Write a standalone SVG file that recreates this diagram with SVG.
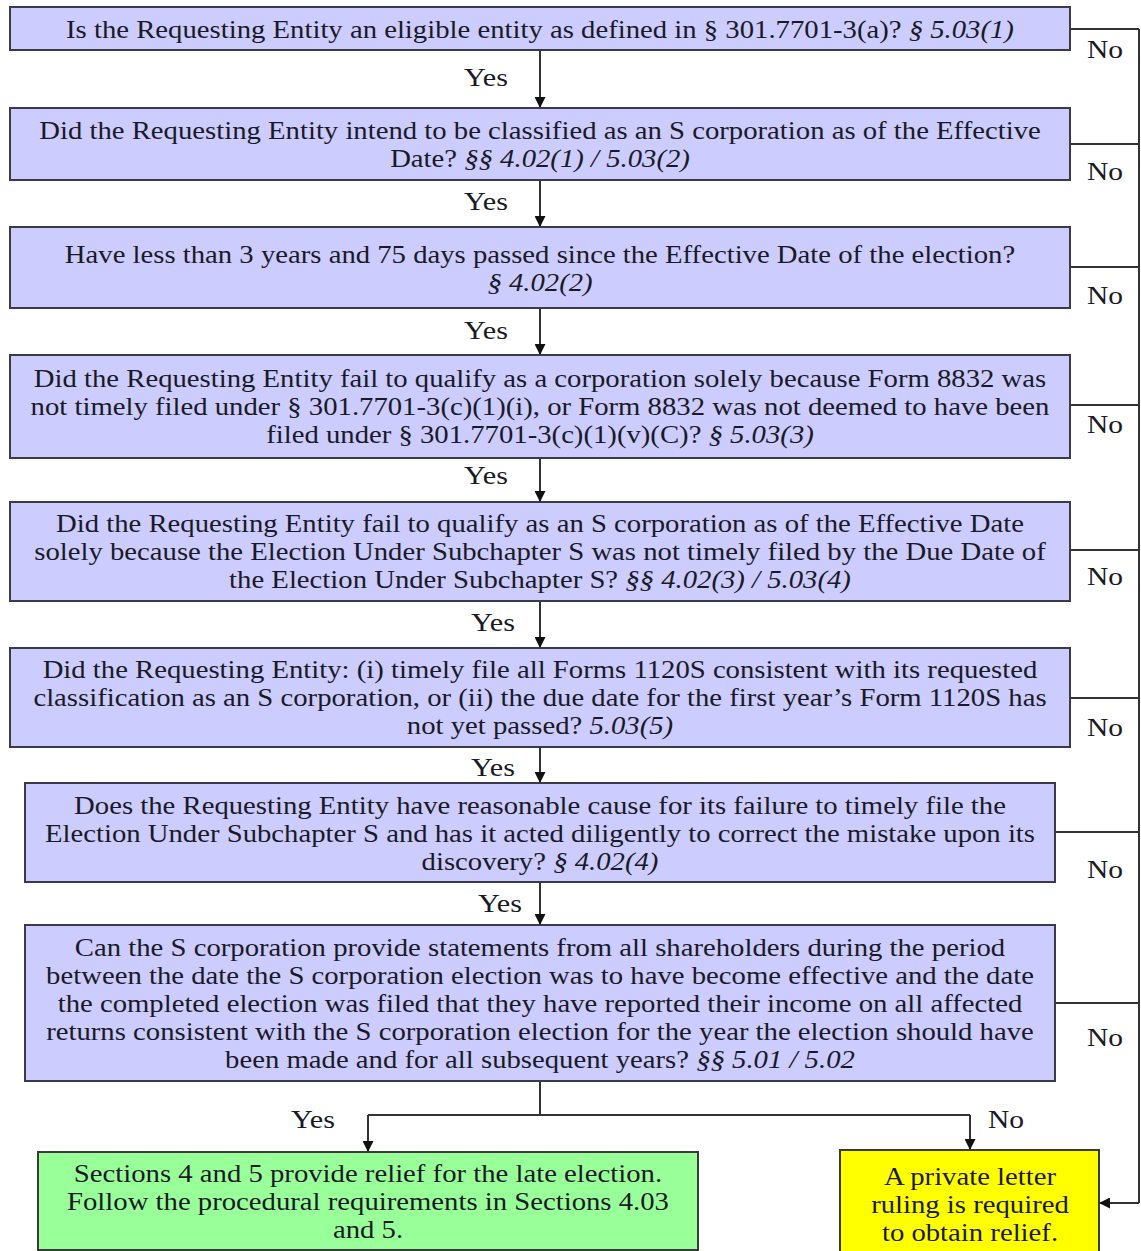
<svg xmlns="http://www.w3.org/2000/svg" width="1141" height="1251" viewBox="0 0 1141 1251">
<style>
text{font-family:"Liberation Serif","Times New Roman",serif;font-size:26px;fill:#1a1a26;text-anchor:middle}
.i{font-style:italic}
.q{fill:#ccccff;stroke:#3a3a4a;stroke-width:2}
.g{fill:#99ff99;stroke:#3a3a3a;stroke-width:2}
.y{fill:#ffff00;stroke:#3a3a3a;stroke-width:2}
.c{fill:none;stroke:#333;stroke-width:2}
</style>
<defs>
<marker id="ah" viewBox="0 0 10 10" refX="10" refY="5" markerWidth="11" markerHeight="11" markerUnits="userSpaceOnUse" orient="auto">
<path d="M0,0 L10,5 L0,10 z" fill="#111"/>
</marker>
</defs>
<rect width="1141" height="1251" fill="#ffffff"/>
<g id="connectors">
<path class="c" d="M540,50 V108" marker-end="url(#ah)"/>
<path class="c" d="M540,180 V227" marker-end="url(#ah)"/>
<path class="c" d="M540,308 V355" marker-end="url(#ah)"/>
<path class="c" d="M540,458 V502" marker-end="url(#ah)"/>
<path class="c" d="M540,601 V648" marker-end="url(#ah)"/>
<path class="c" d="M540,747 V783" marker-end="url(#ah)"/>
<path class="c" d="M540,882 V925" marker-end="url(#ah)"/>
<path class="c" d="M540,1081 V1115 M368,1115 H970"/>
<path class="c" d="M368,1115 V1152" marker-end="url(#ah)"/>
<path class="c" d="M970,1115 V1150" marker-end="url(#ah)"/>
<path class="c" d="M1070,29 H1139 M1070,144 H1139 M1070,267 H1139 M1070,405 H1139 M1070,550 H1139 M1070,698 H1139 M1055,832 H1139 M1055,1003 H1139 M1139,29 V1203"/>
<path class="c" d="M1139,1203 H1099" marker-end="url(#ah)"/>
<text x="486" y="86" textLength="44" lengthAdjust="spacingAndGlyphs">Yes</text>
<text x="486" y="210" textLength="44" lengthAdjust="spacingAndGlyphs">Yes</text>
<text x="486" y="339" textLength="44" lengthAdjust="spacingAndGlyphs">Yes</text>
<text x="486" y="484" textLength="44" lengthAdjust="spacingAndGlyphs">Yes</text>
<text x="493" y="631" textLength="44" lengthAdjust="spacingAndGlyphs">Yes</text>
<text x="493" y="776" textLength="44" lengthAdjust="spacingAndGlyphs">Yes</text>
<text x="500" y="912" textLength="44" lengthAdjust="spacingAndGlyphs">Yes</text>
<text x="313" y="1128" textLength="44" lengthAdjust="spacingAndGlyphs">Yes</text>
<text x="1006" y="1128" textLength="36" lengthAdjust="spacingAndGlyphs">No</text>
<text x="1105" y="58" textLength="36" lengthAdjust="spacingAndGlyphs">No</text>
<text x="1105" y="180" textLength="36" lengthAdjust="spacingAndGlyphs">No</text>
<text x="1105" y="304" textLength="36" lengthAdjust="spacingAndGlyphs">No</text>
<text x="1105" y="433" textLength="36" lengthAdjust="spacingAndGlyphs">No</text>
<text x="1105" y="585" textLength="36" lengthAdjust="spacingAndGlyphs">No</text>
<text x="1105" y="736" textLength="36" lengthAdjust="spacingAndGlyphs">No</text>
<text x="1105" y="878" textLength="36" lengthAdjust="spacingAndGlyphs">No</text>
<text x="1105" y="1046" textLength="36" lengthAdjust="spacingAndGlyphs">No</text>
</g>
<g id="q1">
<rect class="q" x="10" y="7" width="1060" height="43"/>
<g transform="matrix(1.105,0,0,1,-56.7,0)">
<text x="540" y="38">Is the Requesting Entity an eligible entity as defined in § 301.7701-3(a)? <tspan class="i">§ 5.03(1)</tspan></text>
</g>
</g>
<g id="q2">
<rect class="q" x="10" y="108" width="1060" height="72"/>
<g transform="matrix(1.105,0,0,1,-56.7,0)">
<text x="540" y="139">Did the Requesting Entity intend to be classified as an S corporation as of the Effective</text>
<text x="540" y="167">Date? <tspan class="i">§§ 4.02(1) / 5.03(2)</tspan></text>
</g>
</g>
<g id="q3">
<rect class="q" x="10" y="227" width="1060" height="81"/>
<g transform="matrix(1.105,0,0,1,-56.7,0)">
<text x="540" y="263">Have less than 3 years and 75 days passed since the Effective Date of the election?</text>
<text x="540" y="291" class="i">§ 4.02(2)</text>
</g>
</g>
<g id="q4">
<rect class="q" x="10" y="355" width="1060" height="103"/>
<g transform="matrix(1.105,0,0,1,-56.7,0)">
<text x="540" y="387">Did the Requesting Entity fail to qualify as a corporation solely because Form 8832 was</text>
<text x="540" y="415">not timely filed under § 301.7701-3(c)(1)(i), or Form 8832 was not deemed to have been</text>
<text x="540" y="443">filed under § 301.7701-3(c)(1)(v)(C)? <tspan class="i">§ 5.03(3)</tspan></text>
</g>
</g>
<g id="q5">
<rect class="q" x="10" y="502" width="1060" height="99"/>
<g transform="matrix(1.105,0,0,1,-56.7,0)">
<text x="540" y="532">Did the Requesting Entity fail to qualify as an S corporation as of the Effective Date</text>
<text x="540" y="560">solely because the Election Under Subchapter S was not timely filed by the Due Date of</text>
<text x="540" y="588">the Election Under Subchapter S? <tspan class="i">§§ 4.02(3) / 5.03(4)</tspan></text>
</g>
</g>
<g id="q6">
<rect class="q" x="10" y="648" width="1060" height="99"/>
<g transform="matrix(1.105,0,0,1,-56.7,0)">
<text x="540" y="678">Did the Requesting Entity: (i) timely file all Forms 1120S consistent with its requested</text>
<text x="540" y="706">classification as an S corporation, or (ii) the due date for the first year’s Form 1120S has</text>
<text x="540" y="734">not yet passed? <tspan class="i">5.03(5)</tspan></text>
</g>
</g>
<g id="q7">
<rect class="q" x="25" y="783" width="1030" height="99"/>
<g transform="matrix(1.105,0,0,1,-56.7,0)">
<text x="540" y="814">Does the Requesting Entity have reasonable cause for its failure to timely file the</text>
<text x="540" y="842">Election Under Subchapter S and has it acted diligently to correct the mistake upon its</text>
<text x="540" y="870">discovery? <tspan class="i">§ 4.02(4)</tspan></text>
</g>
</g>
<g id="q8">
<rect class="q" x="25" y="925" width="1030" height="156"/>
<g transform="matrix(1.105,0,0,1,-56.7,0)">
<text x="540" y="956">Can the S corporation provide statements from all shareholders during the period</text>
<text x="540" y="984">between the date the S corporation election was to have become effective and the date</text>
<text x="540" y="1012">the completed election was filed that they have reported their income on all affected</text>
<text x="540" y="1040">returns consistent with the S corporation election for the year the election should have</text>
<text x="540" y="1068">been made and for all subsequent years? <tspan class="i">§§ 5.01 / 5.02</tspan></text>
</g>
</g>
<g id="relief">
<rect class="g" x="38" y="1152" width="660" height="98"/>
<g transform="matrix(1.105,0,0,1,-38.64,0)">
<text x="368" y="1182">Sections 4 and 5 provide relief for the late election.</text>
<text x="368" y="1210">Follow the procedural requirements in Sections 4.03</text>
<text x="368" y="1238">and 5.</text>
</g>
</g>
<g id="plr">
<rect class="y" x="840" y="1150" width="259" height="104"/>
<g transform="matrix(1.105,0,0,1,-101.85,0)">
<text x="970" y="1185">A private letter</text>
<text x="970" y="1213">ruling is required</text>
<text x="970" y="1241">to obtain relief.</text>
</g>
</g>
</svg>
